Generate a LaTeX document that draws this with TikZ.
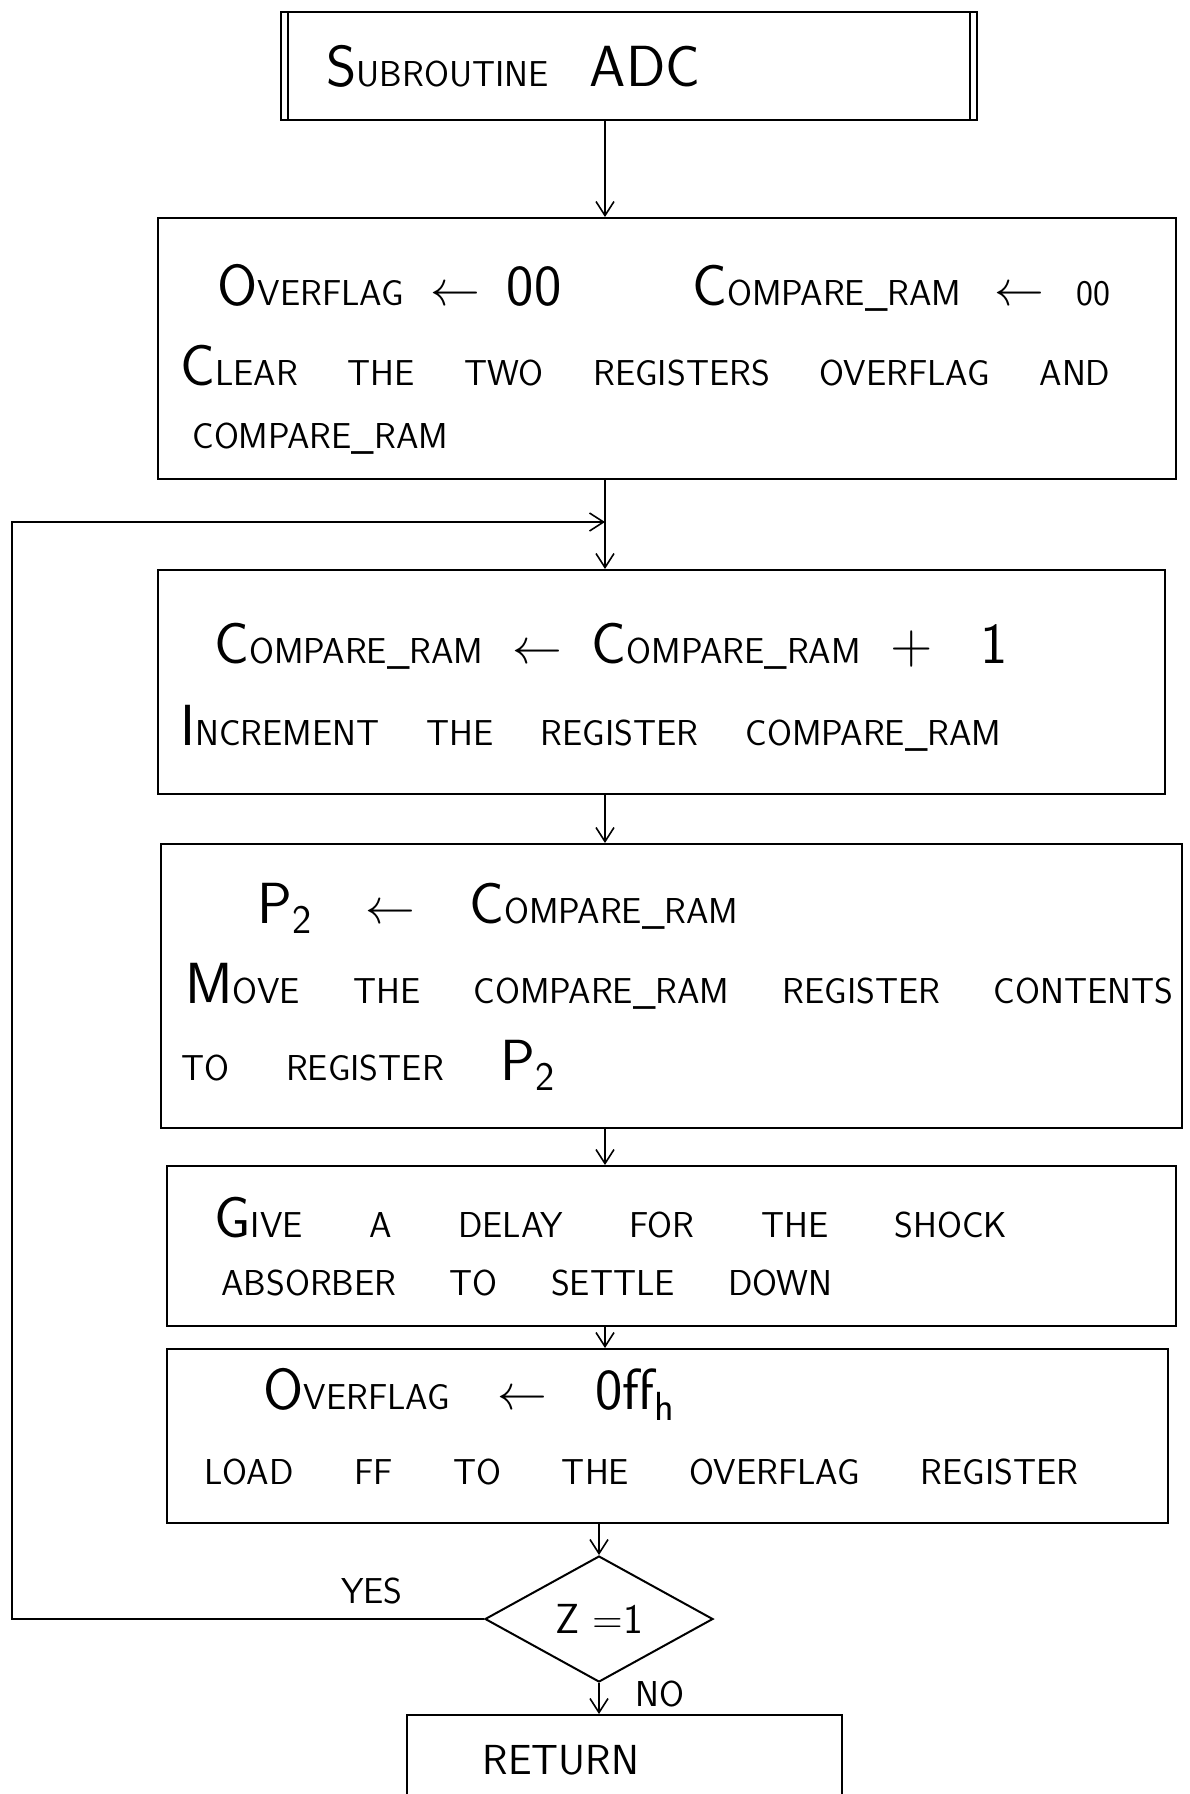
\documentclass[tikz,border=0pt]{standalone}
\usepackage{fontspec}
\usetikzlibrary{arrows.meta,shapes.geometric}
\newcommand\bgl[1]{{\fontsize{29}{30}\selectfont #1}}
\newcommand\arrw{{\fontsize{27}{27}\selectfont$\leftarrow$}}
\begin{document}
\begin{tikzpicture}[x=0.5pt,y=-0.5pt,
  box/.style={draw,line width=1pt,rectangle,inner sep=0pt,anchor=north west},
  txt/.style={inner sep=0pt,anchor=base west,font=\sffamily\fontsize{18}{20}\selectfont},
  lbl/.style={inner sep=0pt,font=\sffamily\fontsize{18}{20}\selectfont},
  conn/.style={line width=0.8pt,-{Straight Barb[length=7pt,width=9pt]}},
  plain/.style={line width=0.8pt}]
\clip (0,0) rectangle (1189,1794);
\fill[white] (0,0) rectangle (1189,1794);
% boxes
\node[box,minimum width=348pt,minimum height=54pt] (b1) at (280,11) {};
\draw[line width=1pt] ([xshift=4pt]b1.north west) -- ([xshift=4pt]b1.south west);
\draw[line width=1pt] ([xshift=-4pt]b1.north east) -- ([xshift=-4pt]b1.south east);
\node[box,minimum width=509pt,minimum height=130.5pt] (b2) at (157,217) {};
\node[box,minimum width=503.5pt,minimum height=112pt] (b3) at (157,569) {};
\node[box,minimum width=510.5pt,minimum height=142pt] (b4) at (160,843) {};
\node[box,minimum width=504.5pt,minimum height=80pt] (b5) at (166,1165) {};
\node[box,minimum width=500.5pt,minimum height=87pt] (b6) at (166,1348) {};
\node[draw,line width=1pt,diamond,inner sep=0pt,minimum width=114pt,minimum height=63pt,
  font=\sffamily\fontsize{21}{22}\selectfont] (d) at (599,1619) {Z =1};
\node[box,minimum width=217.5pt,minimum height=50pt] (ret) at (406,1714) {};
% texts
\node[txt] (t1) at (326,86) {\makebox[187pt][s]{\bgl{S}UBROUTINE \bgl{ADC}}};
\node[txt] (t2a) at (217,305) {\makebox[172pt][s]{\bgl{O}VERFLAG \arrw{} \bgl{00}}};
\node[txt] (t2b) at (692,305) {\makebox[209pt][s]{\bgl{C}OMPARE\_RAM \arrw{} 00}};
\node[txt] (t2c) at (180,385) {\makebox[465pt][s]{\bgl{C}LEAR THE TWO REGISTERS OVERFLAG AND}};
\node[txt] (t2d) at (192,448) {COMPARE\_RAM};
\node[txt] (t3a) at (214,663) {\makebox[396.5pt][s]{\bgl{C}OMPARE\_RAM \arrw{} \bgl{C}OMPARE\_RAM \bgl{+ 1}}};
\node[txt] (t3b) at (180,745) {\makebox[410.5pt][s]{\bgl{I}NCREMENT THE REGISTER COMPARE\_RAM}};
\node[txt] (t4a) at (257,923) {\makebox[240.5pt][s]{\bgl{P\textsubscript{2}} \arrw{} \bgl{C}OMPARE\_RAM}};
\node[txt] (t4b) at (185,1003) {\makebox[494pt][s]{\bgl{M}OVE THE COMPARE\_RAM REGISTER CONTENTS}};
\node[txt] (t4c) at (181,1080) {\makebox[187pt][s]{TO REGISTER \bgl{P\textsubscript{2}}}};
\node[txt] (t5a) at (214,1237) {\makebox[396.5pt][s]{\bgl{G}IVE A DELAY FOR THE SHOCK}};
\node[txt] (t5b) at (221,1295) {\makebox[305.5pt][s]{ABSORBER TO SETTLE DOWN}};
\node[txt] (t6a) at (263,1409) {\makebox[206pt][s]{\bgl{O}VERFLAG \arrw{} \bgl{0ff\textsubscript{h}}}};
\node[txt] (t6b) at (204,1484) {\makebox[437pt][s]{LOAD FF TO THE OVERFLAG REGISTER}};
\node[lbl,font=\sffamily\fontsize{21}{22}\selectfont] (tr) at (561,1760) {RETURN};
\node[lbl] (yes) at (372,1591) {YES};
\node[lbl] (no) at (660,1694) {NO};
% connectors
\coordinate (ax) at (605,0);
\coordinate (j) at (605,522);
\coordinate (lp) at (12,522);
\draw[conn] (b1.south -| ax) -- (b2.north -| ax);
\draw[plain] (b2.south -| ax) -- (j);
\draw[conn] (j) -- (b3.north -| ax);
\draw[conn] (b3.south -| ax) -- (b4.north -| ax);
\draw[conn] (b4.south -| ax) -- (b5.north -| ax);
\draw[conn] (b5.south -| ax) -- (b6.north -| ax);
\draw[conn] (b6.south -| d.north) -- (d.north);
\draw[conn] (d.south) -- (ret.north -| d.south);
\draw[conn] (d.west) -- (d.west -| lp) -- (lp) -- (j);
\end{tikzpicture}
\end{document}
